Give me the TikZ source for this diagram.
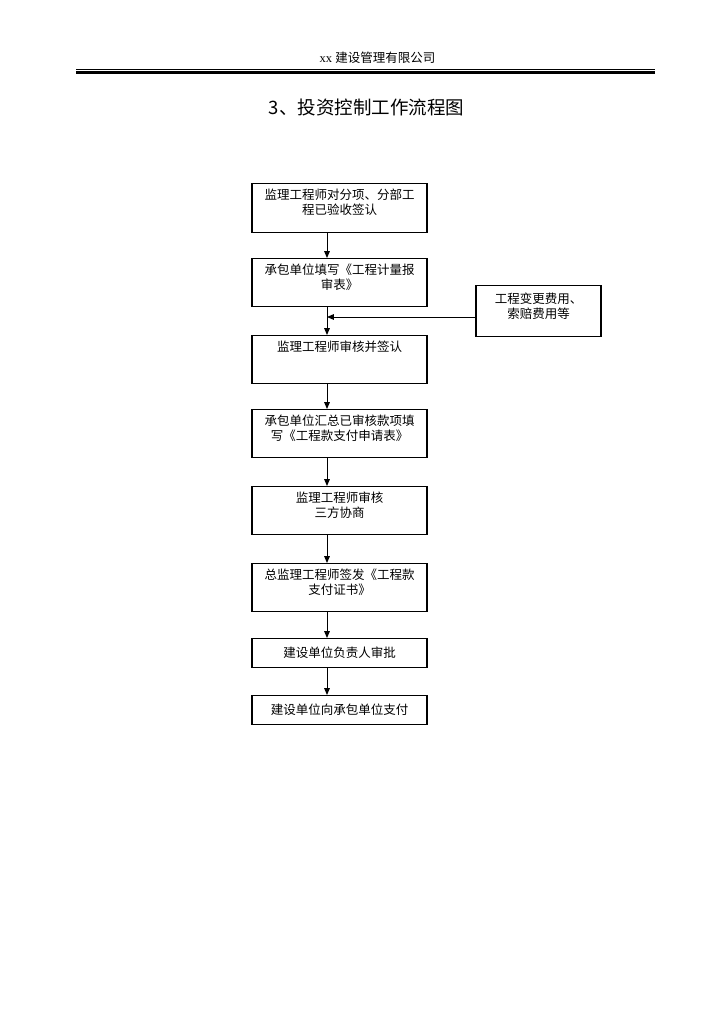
\documentclass[tikz,border=0pt]{standalone}
\usepackage{fontspec}
\setmainfont{Liberation Serif}
\newfontfamily\cjk{Noto Sans CJK SC}
\usetikzlibrary{arrows.meta}
\tikzset{
  stepbox/.style={draw, line width=1pt, anchor=north, text width=132pt, align=center,
    inner xsep=4pt, inner ysep=4.5pt, font=\cjk\fontsize{10}{12}\selectfont,
    text height=8pt, text depth=#1},
  stepbox/.default=21.2pt,
  endbox/.style={stepbox=0.8pt, inner ysep=7.1pt},
  flow/.style={-{Triangle[length=5.5pt,width=4.5pt]}, line width=0.8pt}
}
\begin{document}
\begin{tikzpicture}[x=0.8pt,y=-0.8pt]
                    \fill[white] (0,0) rectangle (724,1024);
                    \useasboundingbox (0,0) rectangle (724,1024);
                    % header
                    \node[font=\fontsize{10}{12}\selectfont] (head) at (377.5,58) {xx {\cjk 建设管理有限公司}};
                    \draw[line width=0.6pt] (76,69) -- (655,69);
                    \draw[line width=2.4pt] (76,72.5) -- (655,72.5);
                    \node[font=\cjk\fontsize{14.8}{18}\selectfont] (title) at (366.5,107) {3、投资控制工作流程图};

                    % boxes
                    \node[stepbox=22pt] (b1) at (339.5,183) {监理工程师对分项、分部工\\程已验收签认};
                    \node[stepbox] (b2) at (339.5,258) {承包单位填写《工程计量报\\审表》};
                    \node[stepbox] (b3) at (339.5,335) {监理工程师审核并签认};
                    \node[stepbox] (b4) at (339.5,409) {承包单位汇总已审核款项填\\写《工程款支付申请表》};
                    \node[stepbox] (b5) at (339.5,486) {监理工程师审核\\三方协商};
                    \node[stepbox] (b6) at (339.5,563) {总监理工程师签发《工程款\\支付证书》};
                    \node[endbox] (b7) at (339.5,638) {建设单位负责人审批};
                    \node[endbox] (b8) at (339.5,695) {建设单位向承包单位支付};
                    \node[stepbox=20.8pt, text width=92pt, inner ysep=6pt] (side) at (538.5,285) {工程变更费用、\\索赔费用等};

                    % arrows
                    \coordinate (ax) at (327,0);
                    \coordinate (j) at (327,317);
                    \draw[flow] (b1.south -| ax) -- (b2.north -| ax);
                    \draw[flow] (b2.south -| ax) -- (b3.north -| ax);
                    \draw[flow] (side.west |- j) -- (j);
                    \draw[flow] (b3.south -| ax) -- (b4.north -| ax);
                    \draw[flow] (b4.south -| ax) -- (b5.north -| ax);
                    \draw[flow] (b5.south -| ax) -- (b6.north -| ax);
                    \draw[flow] (b6.south -| ax) -- (b7.north -| ax);
                    \draw[flow] (b7.south -| ax) -- (b8.north -| ax);
                \end{tikzpicture}
\end{document}
